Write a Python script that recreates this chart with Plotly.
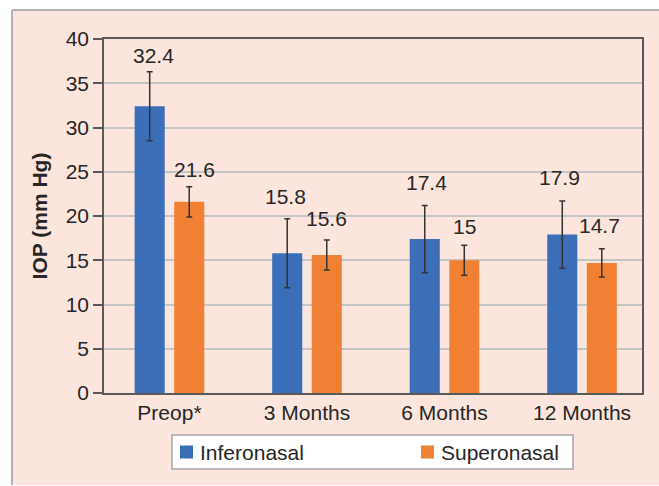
import plotly.graph_objects as go

# Mean intraocular pressure by follow-up visit and implant site
categories = ["Preop*", "3 Months", "6 Months", "12 Months"]
inferonasal = [32.4, 15.8, 17.4, 17.9]
inferonasal_sd = [3.9, 3.9, 3.8, 3.8]
superonasal = [21.6, 15.6, 15.0, 14.7]
superonasal_sd = [1.7, 1.7, 1.7, 1.6]
y_ticks = [0, 5, 10, 15, 20, 25, 30, 35, 40]
series_names = ["Inferonasal", "Superonasal"]

# Small pixel nudges for the value labels (dx, gap above the error cap)
inf_label_nudge = [(4, 8), (-2, 14), (2, 14), (-3, 15)]
sup_label_nudge = [(5, 9), (0, 13), (0, 10), (-2, 15)]

W, H = 659, 486
ML, MR, MT, MB = 104, 17, 39, 93
PW, PH = W - ML - MR, H - MT - MB

FONT = "Liberation Sans, Arial, sans-serif"
TXT = "#262626"
BLUE = "#3a6eb8"
ORANGE = "#f08033"
PINK = "#fce5dc"
FS = 21


def px_x(p):
    return (p - ML) / PW


def px_y(p):
    return (H - MB - p) / PH


fig = go.Figure()
for name, vals, sds, col in ((series_names[0], inferonasal, inferonasal_sd, BLUE),
                             (series_names[1], superonasal, superonasal_sd, ORANGE)):
    fig.add_trace(go.Bar(
        name=name, x=categories, y=vals, marker_color=col,
        marker_line_width=0,
        error_y=dict(type="data", array=sds, color="#333333",
                     thickness=1.5, width=3),
    ))

# Value labels above each error bar
bar_shift = 19.75
for vals, sds, nudges, sgn in ((inferonasal, inferonasal_sd, inf_label_nudge, -1),
                               (superonasal, superonasal_sd, sup_label_nudge, 1)):
    for cat, v, sd, (dx, gap) in zip(categories, vals, sds, nudges):
        fig.add_annotation(
            x=cat, y=v + sd, xref="x", yref="y", text=f"{v:g}",
            showarrow=False, xanchor="center", yanchor="bottom",
            xshift=sgn * bar_shift + dx, yshift=gap - 5,
            font=dict(family=FONT, size=FS, color=TXT),
        )

# Tinted panel behind the chart with a thin frame on the left and top
fig.add_shape(type="rect", xref="paper", yref="paper", layer="below",
              x0=px_x(12), x1=px_x(W + 5), y0=px_y(485), y1=px_y(10),
              fillcolor=PINK, line_width=0)
fig.add_shape(type="line", xref="paper", yref="paper", layer="below",
              x0=px_x(12), x1=px_x(12), y0=px_y(485), y1=px_y(10),
              line=dict(color="#b3b3b3", width=2))
fig.add_shape(type="line", xref="paper", yref="paper", layer="below",
              x0=px_x(12), x1=px_x(W + 5), y0=px_y(10), y1=px_y(10),
              line=dict(color="#b3b3b3", width=2))

# Legend box below the axis
fig.add_shape(type="rect", xref="paper", yref="paper",
              x0=px_x(172), x1=px_x(573), y0=px_y(469), y1=px_y(435),
              fillcolor="white", line=dict(color="#a6a6a6", width=1.5))
for name, col, sx in ((series_names[0], BLUE, 180), (series_names[1], ORANGE, 421)):
    fig.add_shape(type="rect", xref="paper", yref="paper",
                  x0=px_x(sx), x1=px_x(sx + 13), y0=px_y(458.5), y1=px_y(445.5),
                  fillcolor=col, line_width=0)
    fig.add_annotation(
        x=px_x(sx + 18), y=px_y(452), xref="paper", yref="paper", text=name,
        showarrow=False, xanchor="left", yanchor="middle",
        font=dict(family=FONT, size=FS, color=TXT),
    )

fig.update_layout(
    width=W, height=H,
    margin=dict(l=ML, r=MR, t=MT, b=MB, pad=0),
    paper_bgcolor="white", plot_bgcolor="white",
    barmode="group", bargap=0.425, bargroupgap=0.24,
    font=dict(family=FONT, size=FS, color=TXT),
    showlegend=False,
    xaxis=dict(
        type="category", range=[-0.476, 3.436], showgrid=False,
        showline=True, linecolor="#595959", linewidth=1.5, mirror=True,
        ticks="", tickfont=dict(family=FONT, size=FS, color=TXT),
        automargin=False, fixedrange=True,
    ),
    yaxis=dict(
        range=[0, 40], tickvals=y_ticks, showgrid=True,
        gridcolor="#c4c4c4", gridwidth=1.5, zeroline=False,
        showline=True, linecolor="#595959", linewidth=1.5, mirror=True,
        ticks="outside", ticklen=9, tickwidth=1.5, tickcolor="#595959",
        tickfont=dict(family=FONT, size=FS, color=TXT), automargin=False,
        title=dict(text="<b>IOP (mm Hg)</b>",
                   font=dict(family=FONT, size=21, color=TXT), standoff=12),
    ),
)

fig.write_html("out.html")
